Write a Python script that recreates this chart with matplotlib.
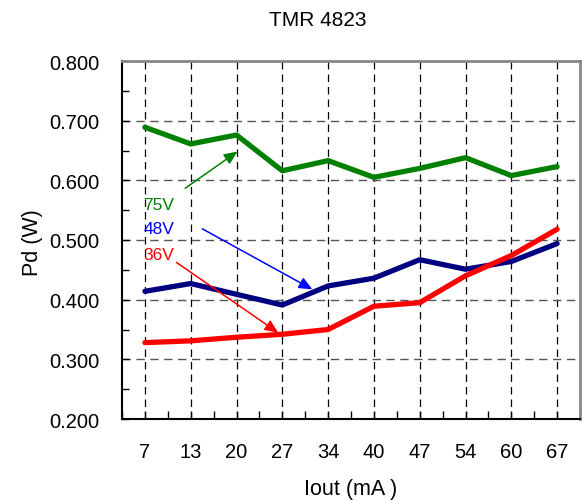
import matplotlib
matplotlib.use("Agg")
import matplotlib.pyplot as plt
from matplotlib.ticker import MultipleLocator, FixedLocator

plt.rcParams['font.family'] = ['Liberation Sans', 'DejaVu Sans']

categories = ["7", "13", "20", "27", "34", "40", "47", "54", "60", "67"]
v75 = [0.689, 0.661, 0.676, 0.616, 0.633, 0.605, 0.620, 0.638, 0.608, 0.623]
v48 = [0.414, 0.427, 0.409, 0.391, 0.423, 0.436, 0.467, 0.451, 0.464, 0.494]
v36 = [0.328, 0.331, 0.337, 0.342, 0.350, 0.389, 0.395, 0.440, 0.474, 0.518]
y_ticks = [0.2, 0.3, 0.4, 0.5, 0.6, 0.7, 0.8]

fig = plt.figure(figsize=(5.82, 5.02), dpi=100)
ax = fig.add_axes([122/582, 1-420/502, 458/582, 358/502])

x = list(range(len(categories)))
ax.plot(x, v75, color="#008000", lw=3.8, solid_capstyle="round", zorder=3)
ax.plot(x, v48, color="#000080", lw=3.8, solid_capstyle="round", zorder=3)
ax.plot(x, v36, color="#FF0000", lw=3.8, solid_capstyle="round", zorder=4)

ax.set_xlim(-0.5, len(categories)-0.5)
ax.set_ylim(0.2, 0.8)
ax.set_xticks(x)
ax.set_xticklabels(categories)
ax.set_yticks(y_ticks)
ax.set_yticklabels([f"{v:.3f}" for v in y_ticks])
ax.yaxis.set_minor_locator(MultipleLocator(0.05))
ax.xaxis.set_minor_locator(FixedLocator([i + 0.5 for i in range(-1, len(categories))]))

ax.xaxis.grid(True, which="major", color="black", ls=(0, (6, 4)), lw=0.9, zorder=1)
ax.yaxis.grid(True, which="major", color="#555555", ls=(0, (6, 4)), lw=1.0, zorder=1)
ax.tick_params(axis="both", which="both", direction="in")
ax.tick_params(axis="x", which="major", length=6, pad=16.5, width=1, labelsize=14.5)
ax.tick_params(axis="x", which="minor", length=6, width=1)
ax.tick_params(axis="y", which="major", length=5, pad=16.5, width=1, labelsize=14.5)
ax.tick_params(axis="y", which="minor", length=5, width=1)
ax.tick_params(top=False, right=False, which="both")

for s in ["left", "bottom"]:
    ax.spines[s].set_color("black")
    ax.spines[s].set_linewidth(1.5)
for s in ["top", "right"]:
    ax.spines[s].set_color("#888888")
    ax.spines[s].set_linewidth(2)

ax.set_xlabel("Iout (mA )", fontsize=15.5)
ax.xaxis.set_label_coords(0.5, (420-479)/358)
ax.set_ylabel("Pd (W)", fontsize=15.5)
ax.yaxis.set_label_coords((43-122)/458, 0.5 - (243-241)/358)
fig.text(318/582, 1-20/502, "TMR 4823", ha="center", va="center", fontsize=15)

ax.annotate("", xy=(2.07, 0.651), xytext=(0.83, 0.584),
            arrowprops=dict(arrowstyle="-|>,head_length=0.8,head_width=0.35", color="#008000", lw=1.1), zorder=5)
ax.annotate("", xy=(3.71, 0.415), xytext=(1.20, 0.521),
            arrowprops=dict(arrowstyle="-|>,head_length=0.8,head_width=0.35", color="#0000FF", lw=1.1), zorder=5)
ax.annotate("", xy=(2.96, 0.342), xytext=(0.64, 0.465),
            arrowprops=dict(arrowstyle="-|>,head_length=0.8,head_width=0.35", color="#FF0000", lw=1.1), zorder=5)
ax.text(0.30, 0.560, "75V", color="#008000", fontsize=12.5, ha="center", va="center", zorder=6)
ax.text(0.30, 0.520, "48V", color="#0000FF", fontsize=12.5, ha="center", va="center", zorder=6)
ax.text(0.30, 0.476, "36V", color="#FF0000", fontsize=12.5, ha="center", va="center", zorder=6)

fig.savefig("out.png", dpi=100)
